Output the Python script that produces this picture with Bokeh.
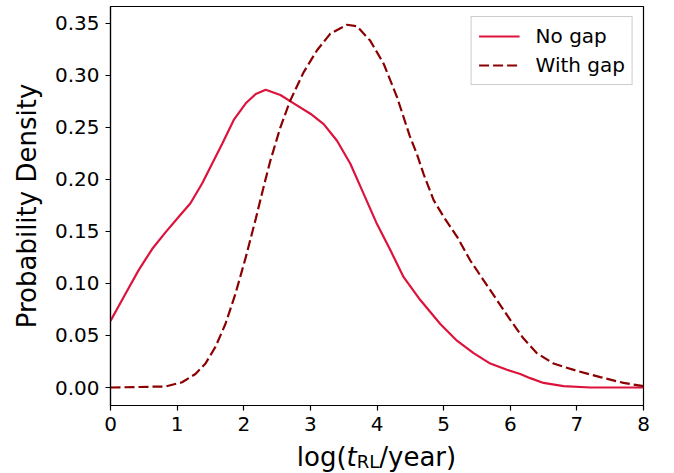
from bokeh.plotting import figure
from bokeh.models import (Range1d, FixedTicker, NumeralTickFormatter, Legend, LegendItem,
                          ColumnDataSource, Div)
from bokeh.layouts import column
from bokeh.embed import file_html
from bokeh.resources import INLINE

# ---- data ----
x_nogap = [0.0, 0.225, 0.425, 0.625, 0.825, 1.025, 1.2, 1.375, 1.525, 1.675, 1.85, 2.03, 2.18,
           2.33, 2.55, 2.75, 3.0, 3.2, 3.4, 3.6, 3.8, 4.0, 4.2, 4.4, 4.65, 4.95, 5.2, 5.45,
           5.7, 5.95, 6.15, 6.3, 6.5, 6.8, 7.2, 8.0]
y_nogap = [0.064, 0.090, 0.113, 0.133, 0.149, 0.164, 0.177, 0.196, 0.215, 0.234, 0.257, 0.273,
           0.282, 0.286, 0.281, 0.273, 0.263, 0.253, 0.237, 0.215, 0.186, 0.157, 0.132, 0.106,
           0.084, 0.061, 0.045, 0.033, 0.023, 0.017, 0.013, 0.009, 0.0044, 0.0013, 0.0, 0.0]

x_gap = [0.0, 0.825, 1.075, 1.275, 1.425, 1.575, 1.725, 1.875, 2.03, 2.18, 2.315, 2.4, 2.55,
         2.7, 2.9, 3.1, 3.3, 3.55, 3.7, 3.9, 4.1, 4.3, 4.49, 4.6, 4.7, 4.85, 5.0, 5.2, 5.4,
         5.6, 5.8, 6.0, 6.2, 6.4, 6.65, 7.0, 7.35, 7.7, 8.0]
y_gap = [0.0, 0.001, 0.005, 0.013, 0.023, 0.039, 0.061, 0.090, 0.125, 0.162, 0.197, 0.218,
         0.250, 0.276, 0.303, 0.324, 0.340, 0.3485, 0.347, 0.333, 0.311, 0.279, 0.242, 0.224,
         0.205, 0.180, 0.164, 0.145, 0.122, 0.103, 0.084, 0.065, 0.047, 0.033, 0.023, 0.016,
         0.010, 0.0044, 0.0013]

x_ticks = [0, 1, 2, 3, 4, 5, 6, 7, 8]
y_ticks = [0.0, 0.05, 0.10, 0.15, 0.20, 0.25, 0.30, 0.35]

series_labels = ["No gap", "With gap"]
y_label = "Probability Density"
# x label pieces: log( , italic t , subscript RL , /year)
x_label_parts = ["log(", "t", "RL", "/year)"]

FONT = "DejaVu Sans"
Y0, Y1 = -0.01728, 0.366
FW, FH = 533, 399
W = 674
H_MAIN = 441
H_LAB = 473 - H_MAIN

p = figure(width=W, height=H_MAIN, frame_width=FW, frame_height=FH, title=None,
           min_border_left=110, min_border_right=W - 110 - FW, min_border_top=6,
           min_border_bottom=H_MAIN - 6 - FH,
           output_backend="svg", toolbar_location=None,
           x_range=Range1d(0, 8), y_range=Range1d(Y0, Y1))
p.grid.visible = False
p.outline_line_color = "black"
p.outline_line_width = 1.2
p.background_fill_color = "white"
p.border_fill_color = "white"

for ax in (p.xaxis[0], p.yaxis[0]):
    ax.axis_line_color = "black"
    ax.axis_line_width = 1.2
    ax.major_tick_in = 0
    ax.major_tick_out = 5
    ax.major_tick_line_color = "black"
    ax.major_tick_line_width = 1.2
    ax.minor_tick_line_color = None
    ax.major_label_text_font = FONT
    ax.major_label_text_font_size = "20px"
    ax.major_label_text_color = "black"
    ax.major_label_standoff = 6

p.xaxis[0].ticker = FixedTicker(ticks=x_ticks)
p.yaxis[0].ticker = FixedTicker(ticks=y_ticks)
p.yaxis[0].formatter = NumeralTickFormatter(format="0.00")

p.yaxis[0].axis_label = y_label
p.yaxis[0].axis_label_text_font = FONT
p.yaxis[0].axis_label_text_font_size = "26px"
p.yaxis[0].axis_label_text_font_style = "normal"
p.yaxis[0].axis_label_text_color = "black"
p.yaxis[0].axis_label_standoff = 10

src_a = ColumnDataSource(dict(x=x_nogap, y=y_nogap))
src_b = ColumnDataSource(dict(x=x_gap, y=y_gap))
r1 = p.line("x", "y", source=src_a, line_color="#DC143C", line_width=2.2)
r2 = p.line("x", "y", source=src_b, line_color="#8B0000", line_width=2.2, line_dash="10 4")

legend = Legend(items=[LegendItem(label=series_labels[0], renderers=[r1]),
                       LegendItem(label=series_labels[1], renderers=[r2])],
                location="top_right", margin=10, padding=7, spacing=5,
                glyph_width=41, glyph_height=20, label_height=20, label_standoff=16,
                label_text_font=FONT, label_text_font_size="20px", label_text_color="black",
                border_line_color="#cccccc", border_line_width=1, border_line_alpha=1.0,
                background_fill_color="white", background_fill_alpha=0.8)
p.add_layout(legend)

# ---- x-axis title as HTML below the plot, centred under the frame ----
frame_centre = 110 + FW / 2
pad_left = int(round(2 * frame_centre - W))
html = (
    f'<div style="box-sizing: border-box; font-family: \'DejaVu Sans\'; font-size: 26px; '
    f'line-height: {H_LAB}px; text-align: center; padding-left: {pad_left}px; width: {W}px; '
    f'color: black; white-space: nowrap; margin: 0;">'
    f'{x_label_parts[0]}<i>{x_label_parts[1]}</i>'
    f'<span style="font-size: 18px; position: relative; top: 2px;">{x_label_parts[2]}</span>'
    f'{x_label_parts[3]}</div>'
)
xlabel_div = Div(text=html, width=W, height=H_LAB, margin=0,
                 styles={"margin": "0", "padding": "0", "overflow": "hidden"})

layout = column(p, xlabel_div, spacing=0)
open("out.html", "w").write(file_html(layout, INLINE))
